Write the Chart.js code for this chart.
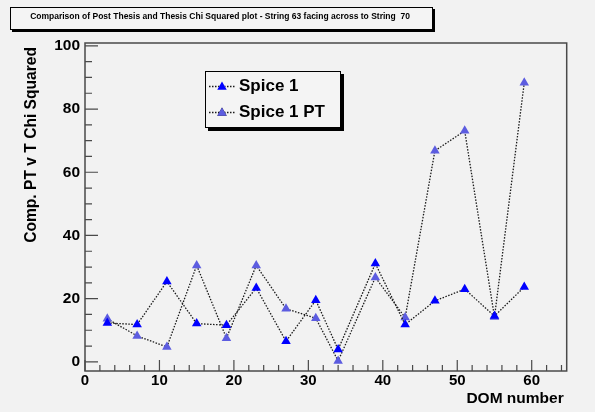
<!DOCTYPE html>
<html>
<head>
<meta charset="utf-8">
<script src="https://cdn.jsdelivr.net/npm/chart.js@4.4.0/dist/chart.umd.min.js"></script>
<style>
html, body { margin: 0; padding: 0; background: #f2f2f2; }
</style>
</head>
<body>
<canvas id="canvas" width="595" height="412"></canvas>
<script>
// DOM number and chi squared comparison for each DOM
var domNumbers = [3, 7, 11, 15, 19, 23, 27, 31, 34, 39, 43, 47, 51, 55, 59];
var spice1 = [12.3, 11.8, 25.4, 12.1, 11.6, 23.4, 6.5, 19.5, 3.9, 31.1, 11.8, 19.3, 23.0, 14.5, 23.7];
var spice1PT = [13.6, 8.2, 4.7, 30.5, 7.5, 30.5, 16.8, 13.8, 0.3, 26.7, 14.0, 66.8, 73.1, 14.2, 88.3];
var seriesNames = ['Spice 1', 'Spice 1 PT'];
var xTicks = [0, 10, 20, 30, 40, 50, 60];
var yTicks = [0, 20, 40, 60, 80, 100];

var titleText = 'Comparison of Post Thesis and Thesis Chi Squared plot - String 63 facing across to String  70';
var bold = 'bold 15.5px "Liberation Sans", Arial, sans-serif';

function points(ys) {
    return domNumbers.map(function(x, i) { return { x: x, y: ys[i] }; });
}

function boxWithShadow(ctx, x, y, w, h, sh) {
    ctx.fillStyle = '#000';
    ctx.fillRect(x + sh, y + sh, w, h);
    ctx.fillStyle = '#f4f4f4';
    ctx.fillRect(x, y, w, h);
    ctx.strokeStyle = '#000';
    ctx.lineWidth = 1;
    ctx.strokeRect(x + 0.5, y + 0.5, w - 1, h - 1);
}

// frame, ticks, titles and legend drawn in ROOT style
var rootStyle = {
    id: 'rootStyle',
    beforeDraw: function(chart) {
        var ctx = chart.ctx;
        ctx.save();
        ctx.fillStyle = '#f2f2f2';
        ctx.fillRect(0, 0, chart.width, chart.height);
        ctx.restore();
    },
    beforeDatasetsDraw: function(chart) {
        var ctx = chart.ctx, a = chart.chartArea;
        var xs = chart.scales.x, ys = chart.scales.y;
        ctx.save();
        ctx.strokeStyle = '#4a4a4a';
        ctx.lineWidth = 1.5;
        ctx.strokeRect(a.left, a.top, a.right - a.left, a.bottom - a.top);

        ctx.lineWidth = 1.2;
        ctx.beginPath();
        for (var v = 0; v <= xs.max; v += 2) {
            var px = xs.getPixelForValue(v);
            var len = (v % 10 === 0) ? 11 : 6;
            ctx.moveTo(px, a.bottom);
            ctx.lineTo(px, a.bottom - len);
        }
        for (var w = 0; w <= ys.max; w += 5) {
            var py = ys.getPixelForValue(w);
            var l2 = (w % 20 === 0) ? 13 : 7;
            ctx.moveTo(a.left, py);
            ctx.lineTo(a.left + l2, py);
        }
        ctx.stroke();

        // axis titles
        ctx.fillStyle = '#000';
        ctx.font = bold;
        ctx.textAlign = 'right';
        ctx.textBaseline = 'alphabetic';
        ctx.fillText('DOM number', a.right - 3, 403);

        ctx.save();
        ctx.translate(36, a.top + 4);
        ctx.rotate(-Math.PI / 2);
        ctx.font = 'bold 15.6px "Liberation Sans", Arial, sans-serif';
        ctx.fillText('Comp. PT v T Chi Squared', 0, 0);
        ctx.restore();
        ctx.restore();
    },
    afterDraw: function(chart) {
        var ctx = chart.ctx;
        ctx.save();

        // title box
        boxWithShadow(ctx, 10, 7, 423, 23, 2);
        ctx.fillStyle = '#000';
        ctx.font = 'bold 8.5px "Liberation Sans", Arial, sans-serif';
        ctx.textAlign = 'center';
        ctx.textBaseline = 'middle';
        ctx.fillText(titleText, 220, 17);

        // legend
        boxWithShadow(ctx, 205, 71, 136, 57, 3);
        ctx.font = 'bold 17px "Liberation Sans", Arial, sans-serif';
        ctx.textAlign = 'left';
        ctx.textBaseline = 'middle';
        var rows = [86, 112];
        chart.data.datasets.forEach(function(ds, i) {
            var y = rows[i];
            ctx.strokeStyle = ds.borderColor;
            ctx.lineWidth = ds.borderWidth;
            ctx.setLineDash(ds.borderDash);
            ctx.beginPath();
            ctx.moveTo(209, y + 0.5);
            ctx.lineTo(235, y + 0.5);
            ctx.stroke();
            ctx.setLineDash([]);
            Chart.helpers.drawPoint(ctx, {
                pointStyle: 'triangle', radius: ds.pointRadius, borderWidth: 0
            }, 222, y + 1);
            ctx.fillStyle = ds.pointBackgroundColor;
            ctx.fill();
            ctx.fillStyle = '#000';
            ctx.fillText(ds.label, 239, y);
        });
        ctx.restore();
    }
};

function series(name, ys, color) {
    return {
        label: name,
        data: points(ys),
        borderColor: '#1a1a1a',
        borderWidth: 1.3,
        borderDash: [1.5, 1.5],
        tension: 0,
        fill: false,
        pointStyle: 'triangle',
        pointRadius: 5.5,
        pointBackgroundColor: color,
        pointBorderColor: color,
        pointBorderWidth: 0
    };
}

var ctx = document.getElementById('canvas').getContext('2d');
var chart = new Chart(ctx, {
    type: 'line',
    data: {
        datasets: [
            series(seriesNames[0], spice1, '#0000ff'),
            series(seriesNames[1], spice1PT, '#5c5ce0')
        ]
    },
    options: {
        responsive: false,
        animation: false,
        layout: { padding: { top: 43, right: 28.3, bottom: 0, left: 0 } },
        plugins: {
            legend: { display: false },
            tooltip: { enabled: false },
            title: { display: false }
        },
        scales: {
            x: {
                type: 'linear',
                min: 0,
                max: 64.7,
                grid: { display: false, drawTicks: false },
                border: { display: false },
                ticks: {
                    font: { family: 'Liberation Sans', weight: 'bold', size: 15 },
                    color: '#000',
                    padding: 1,
                    maxRotation: 0,
                    includeBounds: false
                },
                afterBuildTicks: function(s) {
                    s.ticks = xTicks.map(function(v) { return { value: v }; });
                },
                afterFit: function(s) { s.height = 41; }
            },
            y: {
                type: 'linear',
                min: -2.9,
                max: 100.9,
                grid: { display: false, drawTicks: false },
                border: { display: false },
                ticks: {
                    font: { family: 'Liberation Sans', weight: 'bold', size: 15.5 },
                    color: '#000',
                    padding: 5,
                    includeBounds: false
                },
                afterBuildTicks: function(s) {
                    s.ticks = yTicks.map(function(v) { return { value: v }; });
                },
                afterFit: function(s) { s.width = 85; }
            }
        }
    },
    plugins: [rootStyle]
});
</script>
</body>
</html>
